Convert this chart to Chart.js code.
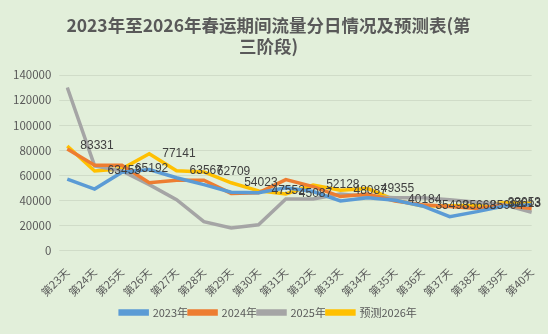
<!DOCTYPE html>
<html>
<head>
<meta charset="utf-8">
<script src="https://cdn.jsdelivr.net/npm/chart.js@4"></script>
<style>
  html, body { margin: 0; padding: 0; background: #e2efda; }
  #wrap { width: 548px; height: 334px; }
</style>
</head>
<body>
<div id="wrap"><canvas id="myChart" width="548" height="334"></canvas></div>
<script>
// categories
var days = ['第23天', '第24天', '第25天', '第26天', '第27天', '第28天', '第29天', '第30天', '第31天',
            '第32天', '第33天', '第34天', '第35天', '第36天', '第37天', '第38天', '第39天', '第40天'];

// series values
var y2023 = [57000, 49000, 62500, 64500, 58000, 52500, 46500, 46000, 50000,
             47000, 39500, 42000, 40000, 35500, 27000, 31000, 35500, 36500];
var y2024 = [81000, 68000, 68000, 54000, 56000, 56000, 45500, 46000, 56500,
             51000, 43000, 45000, 39500, 36500, 35000, 33500, 36000, 33500];
var y2025 = [130000, 67500, 63500, 52500, 40500, 23000, 18000, 20500, 41000,
             41000, 45000, 43000, 42000, 42000, 40500, 38500, 36500, 30500];
var y2026 = [83331, 63453, 65192, 77141, 63567, 62709, 54023, 47552, 45087,
             52128, 48087, 49355, 40184, 35498, 35668, 35994, 38053, 37613];

var seriesNames = ['2023年', '2024年', '2025年', '预测2026年'];
var seriesColors = ['#5b9bd5', '#ed7d31', '#a5a5a5', '#ffc000'];

var yTicks = [0, 20000, 40000, 60000, 80000, 100000, 120000, 140000];

var textColor = '#595959';
var fontFamily = "'Noto Sans CJK SC', 'Liberation Sans', sans-serif";
var labelFont = "'Liberation Sans', Arial, sans-serif";

// draw the values of the forecast series to the right of each point
var valueLabels = {
    id: 'valueLabels',
    afterDatasetsDraw: function(chart) {
        var ctx = chart.ctx;
        var meta = chart.getDatasetMeta(3);
        var data = chart.data.datasets[3].data;
        ctx.save();
        ctx.font = '12px ' + labelFont;
        ctx.fillStyle = '#404040';
        ctx.textBaseline = 'middle';
        ctx.textAlign = 'left';
        meta.data.forEach(function(pt, i) {
            var txt = String(data[i]);
            var w = ctx.measureText(txt).width;
            var x = pt.x + 13;
            if (x + w > chart.width - 7) x = chart.width - 7 - w;
            ctx.fillText(txt, x, pt.y);
        });
        ctx.restore();
    }
};

var ctx = document.getElementById('myChart').getContext('2d');
var allSeries = [y2023, y2024, y2025, y2026];

var myChart = new Chart(ctx, {
    type: 'line',
    data: {
        labels: days,
        datasets: allSeries.map(function(vals, i) {
            return {
                label: seriesNames[i],
                data: vals,
                borderColor: seriesColors[i],
                backgroundColor: seriesColors[i],
                borderWidth: 3.5,
                pointRadius: 0,
                tension: 0,
                fill: false
            };
        })
    },
    options: {
        responsive: false,
        animation: false,
        layout: { padding: { left: 5, right: 16, top: 0, bottom: 6 } },
        plugins: {
            title: {
                display: true,
                text: ['2023年至2026年春运期间流量分日情况及预测表(第', '三阶段)'],
                color: textColor,
                font: { family: fontFamily, size: 17.5, weight: 'bold', lineHeight: 1.2 },
                padding: { top: 15, bottom: 18 }
            },
            legend: {
                position: 'bottom',
                labels: {
                    color: textColor,
                    font: { family: fontFamily, size: 11 },
                    boxWidth: 27,
                    boxHeight: 3,
                    padding: 1
                }
            },
            tooltip: { enabled: false }
        },
        scales: {
            x: {
                grid: { display: false },
                border: { display: false },
                ticks: {
                    color: textColor,
                    font: { family: fontFamily, size: 11 },
                    minRotation: 45,
                    maxRotation: 45,
                    autoSkip: false,
                    padding: 7
                }
            },
            y: {
                min: 0,
                max: 140000,
                afterBuildTicks: function(axis) {
                    axis.ticks = yTicks.map(function(v) { return { value: v }; });
                },
                grid: { color: '#d0dcc8', lineWidth: 1 },
                border: { display: false },
                ticks: {
                    color: textColor,
                    font: { family: fontFamily, size: 11.5 },
                    padding: 8,
                    callback: function(v) { return String(v); }
                }
            }
        }
    },
    plugins: [valueLabels]
});
</script>
</body>
</html>
